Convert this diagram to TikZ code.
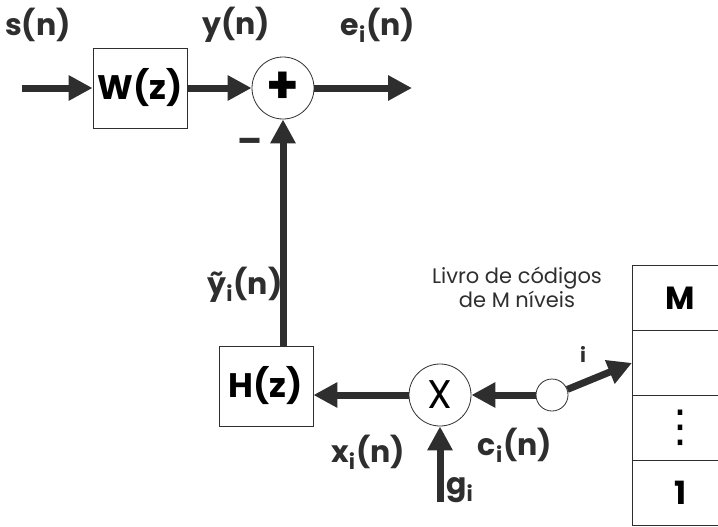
\documentclass[tikz,border=0pt]{standalone}
\usepackage{fontspec}
\setmainfont{Poppins}
\newfontfamily\symfont{DejaVu Sans}
\usetikzlibrary{positioning, arrows.meta, calc}
\definecolor{InkGray}{HTML}{2E2E2E}

\begin{document}
\begin{tikzpicture}[
    x=0.5pt, y=-0.5pt,
    block/.style={rectangle, draw=InkGray, thin, minimum width=47pt, minimum height=40pt,
                  inner sep=0pt, font=\fontsize{17}{19}\selectfont\bfseries},
    junction/.style={circle, draw=InkGray, thin, minimum size=31pt, inner sep=0pt,
                     font=\fontsize{26}{28}\selectfont\bfseries},
    switch/.style={circle, draw=InkGray, thin, minimum size=16pt, inner sep=0pt},
    cell/.style={rectangle, draw=InkGray, thin, minimum width=86pt, minimum height=32.5pt,
                 inner sep=0pt, font=\fontsize{16}{18}\selectfont\bfseries},
    signal/.style={-{Triangle[length=12pt, width=12pt]}, line width=3.5pt, InkGray},
    label/.style={font=\fontsize{15}{17}\selectfont\bfseries, text=InkGray},
    note/.style={font=\fontsize{10.5}{12}\selectfont, align=center, text=InkGray}
]
  \useasboundingbox (0,0) rectangle (718,526);

  % Blocks
  \node[block] (w) at (140,88) {W(z)};
  \node[junction] (sum) at (283,88) {+};
  \node[block] (h) at (266,386) {H(z)};
  \node[junction, font=\fontsize{20}{22}\selectfont] (mult) at (440,395) {X};
  \node[switch] (sw) at (552,395) {};

  % Codebook
  \foreach \r/\lab in {1/M, 2/{}, 3/{\symfont\mdseries\fontsize{22}{22}\selectfont ⋮}, 4/1}{
    \node[cell, anchor=north west] (cb\r) at (632,265+\r*65-65) {\hspace*{-38pt}\lab};
  }
  \node[note] (cbl) at (517,287) {Livro de códigos\\de M níveis};

  % Free ends
  \coordinate (in) at (22,88);
  \coordinate (out) at (412,88);
  \coordinate (gin) at (440,502);
  \coordinate (hup) at (283,346);

  % Connections
  \draw[signal] (in) -- (w.west);
  \draw[signal] (w.east) -- (sum.west);
  \draw[signal] (sum.east) -- (out);
  \draw[signal] (hup) -- (sum.south);
  \draw[signal] (mult.west) -- (h.east |- mult.west);
  \draw[signal] (sw.west) -- (mult.east);
  \draw[signal] (gin) -- (mult.south);
  \draw[signal] (sw.20) -- (cb2.west);

  % Labels
  \node[label] (ls) at (38,25) {s(n)};
  \node[label] (ly) at (236,25) {y(n)};
  \node[label] (le) at (378,25) {e\textsubscript{i}(n)};
  \node[label] (lm) at (250,146) {\bfseries\fontsize{18}{18}\selectfont --};
  \node[label] (lyt) at (245,285) {ỹ\textsubscript{i}(n)};
  \node[label] (lx) at (368,452) {x\textsubscript{i}(n)};
  \node[label] (lc) at (515,445) {c\textsubscript{i}(n)};
  \node[label] (lg) at (460,490) {g\textsubscript{i}};
  \node[label, font=\fontsize{10}{12}\selectfont\bfseries] (li) at (583,354) {i};
\end{tikzpicture}
\end{document}
